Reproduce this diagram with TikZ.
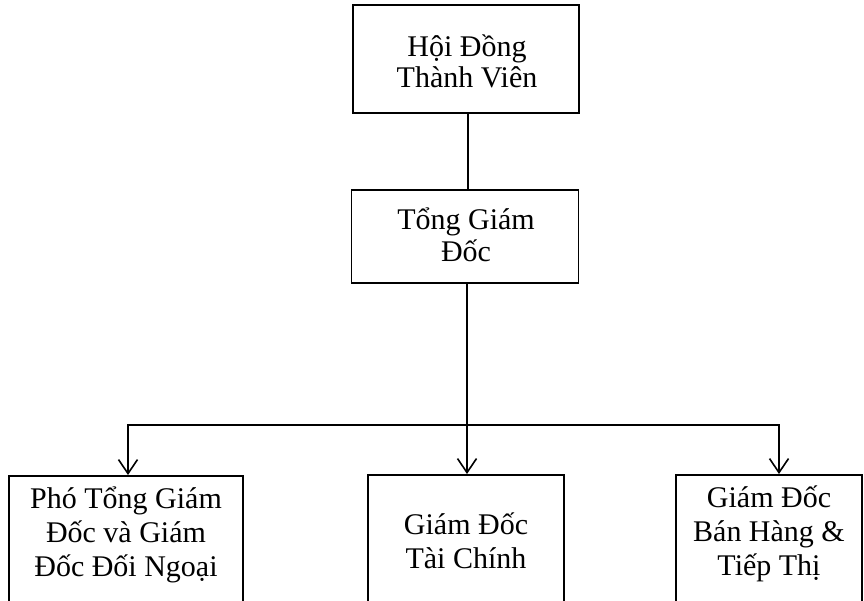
\documentclass[tikz,border=0pt]{standalone}
\usepackage{fontspec}
\setmainfont{Liberation Serif}
\usetikzlibrary{arrows.meta}
\begin{document}
\begin{tikzpicture}[x=1pt,y=-1pt,
  box/.style={draw, line width=1.9pt, fill=white, inner sep=0pt},
  txt/.style={align=center, inner sep=0pt, font=\fontsize{30}{34}\selectfont},
  conn/.style={line width=1.7pt},
  arr/.style={conn, -{Straight Barb[length=14pt,width=19pt,line width=1.6pt]}}]
\useasboundingbox (0,0) rectangle (864,600);
\clip (0,0) rectangle (864,600);
% top boxes
\node[box, minimum width=226, minimum height=108] (hdtv) at (466,59) {};
\node[txt, font=\fontsize{30}{31}\selectfont] (hdtvt) at (467,61) {Hội Đồng\\Thành Viên};
\node[box, minimum width=227, minimum height=93] (tgd) at (465,236.5) {};
\node[txt, font=\fontsize{30}{32}\selectfont] (tgdt) at (466,235) {Tổng Giám\\Đốc};
% bottom boxes (cut off by picture edge)
\node[box, minimum width=234, minimum height=160, anchor=north] (pho) at (126,475) {};
\node[txt] (phot) at (126,535) {Phó Tổng Giám\\Đốc và Giám\\Đốc Đối Ngoại};
\node[box, minimum width=196, minimum height=160, anchor=north] (tc) at (466,474) {};
\node[txt] (tct) at (466,541) {Giám Đốc\\Tài Chính};
\node[box, minimum width=186, minimum height=160, anchor=north] (bh) at (769,474) {};
\node[txt] (bht) at (769,534) {Giám Đốc\\Bán Hàng \&\\Tiếp Thị};
% connectors
\coordinate (j) at (467,425);
\draw[conn] ([xshift=2pt]hdtv.south) -- ([xshift=2pt]hdtv.south |- tgd.north);
\draw[conn] ([xshift=2pt]tgd.south) -- (j);
\draw[arr] (j) -- (j |- tc.north);
\draw[arr] (j) -| ([xshift=2pt]pho.north);
\draw[arr] (j) -| ([xshift=10pt]bh.north);
\end{tikzpicture}
\end{document}
